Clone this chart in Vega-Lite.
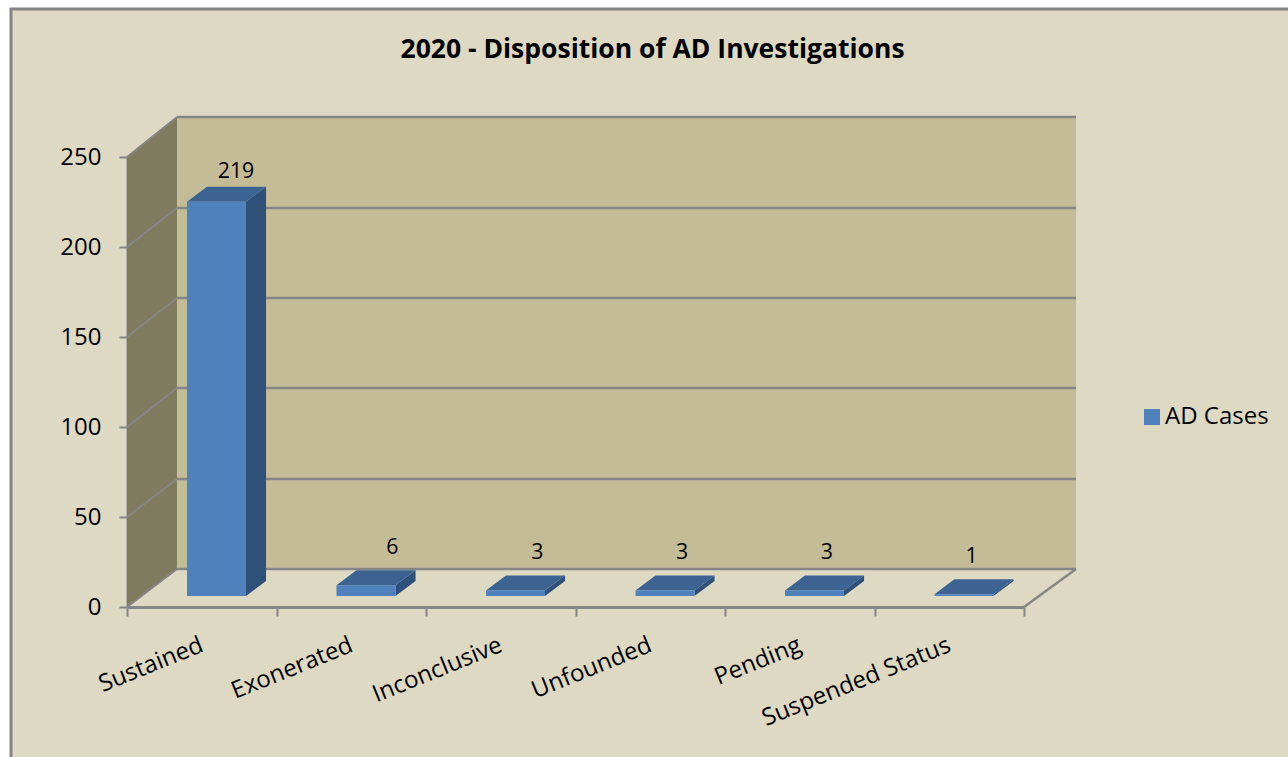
{
"$schema":"https://vega.github.io/schema/vega-lite/v6.json",
"width":1280,"height":751,
"autosize":{"type":"none"},
"padding":{"left":11,"top":9,"right":-3,"bottom":-3},
"background":"#ffffff",
"view":{"fill":"#ddd9c3","stroke":"#868686","strokeWidth":3},
"config":{"font":"Open Sans"},
"title":{"text":"2020 - Disposition of AD Investigations","font":"Open Sans","fontSize":26.5,"fontWeight":"bold","color":"#000000","anchor":"start","offset":-54,"dx":394},
"datasets":{
"cases":[
{"category":"Sustained","value":219,"series":"AD Cases"},
{"category":"Exonerated","value":6,"series":"AD Cases"},
{"category":"Inconclusive","value":3,"series":"AD Cases"},
{"category":"Unfounded","value":3,"series":"AD Cases"},
{"category":"Pending","value":3,"series":"AD Cases"},
{"category":"Suspended Status","value":1,"series":"AD Cases"}],
"grid":[
{"level":0,"back":21.1},{"level":50,"back":71.1},{"level":100,"back":121.7},{"level":150,"back":171.7},{"level":200,"back":221.7},{"level":250,"back":272.2}],
"leftwall":[{"depth":0,"low":0,"high":250},{"depth":0.3344,"low":21.1,"high":272.2}],
"backwall":[{"near":0.3344,"far":6.348,"low":21.1,"high":272.2}],
"floorEdge":[{"x0":6,"x1":6.348,"y0":0,"y1":21.1}]
},
"resolve":{"scale":{"x":"independent"},"axis":{"x":"independent"}},
"layer":[
{"data":{"name":"leftwall"},"mark":{"type":"area","orient":"vertical","fill":"#7f7b5f","clip":false},
"encoding":{
"x":{"field":"depth","type":"quantitative","scale":{"domain":[0,6],"range":[116,1013]},"axis":null},
"y":{"field":"low","type":"quantitative","stack":null,"scale":{"domain":[0,250],"range":[598,148],"nice":false,"zero":false},
"axis":{"orient":"left","offset":-116,"values":[0,50,100,150,200,250],"grid":false,"title":null,"domainColor":"#868686","domainWidth":2,"tickColor":"#868686","tickWidth":2,"tickSize":8,"labelFontSize":24,"labelColor":"#000000","labelFont":"Open Sans","labelPadding":18}},
"y2":{"field":"high"}}},
{"data":{"name":"backwall"},"mark":{"type":"rect","fill":"#c4bc96"},
"encoding":{
"x":{"field":"near","type":"quantitative","scale":{"domain":[0,6],"range":[116,1013]},"axis":null},
"x2":{"field":"far"},
"y":{"field":"low","type":"quantitative","scale":{"domain":[0,250],"range":[598,148],"nice":false,"zero":false}},"y2":{"field":"high"}}},
{"data":{"name":"grid"},"mark":{"type":"rule","stroke":"#868686","strokeWidth":2.5},
"encoding":{
"x":{"datum":0.3344,"type":"quantitative","scale":{"domain":[0,6],"range":[116,1013]},"axis":null},
"x2":{"datum":6.348},
"y":{"field":"back","type":"quantitative","scale":{"domain":[0,250],"range":[598,148],"nice":false,"zero":false}}}},
{"data":{"name":"grid"},"mark":{"type":"rule","stroke":"#868686","strokeWidth":2},
"encoding":{
"x":{"datum":0,"type":"quantitative","scale":{"domain":[0,6],"range":[116,1013]},"axis":null},
"x2":{"datum":0.3344},
"y":{"field":"level","type":"quantitative","scale":{"domain":[0,250],"range":[598,148],"nice":false,"zero":false}},"y2":{"field":"back"}}},
{"data":{"name":"floorEdge"},"mark":{"type":"rule","stroke":"#868686","strokeWidth":2.5},
"encoding":{
"x":{"field":"x0","type":"quantitative","scale":{"domain":[0,6],"range":[116,1013]},"axis":null},
"x2":{"field":"x1"},
"y":{"field":"y0","type":"quantitative","scale":{"domain":[0,250],"range":[598,148],"nice":false,"zero":false}},"y2":{"field":"y1"}}},
{"data":{"name":"cases"},
"transform":[
{"window":[{"op":"row_number","as":"slot"}]},
{"calculate":"[0,1]","as":"corner"},{"flatten":["corner"]},
{"calculate":"datum.slot-1+0.796+datum.corner*0.134","as":"sx"},
{"calculate":"6.11+datum.value+datum.corner*8.33","as":"sy"},
{"calculate":"6.11+datum.corner*8.33","as":"sy2"}],
"mark":{"type":"area","orient":"vertical","fill":"#2f5078"},
"encoding":{
"detail":{"field":"category"},
"x":{"field":"sx","type":"quantitative","scale":{"domain":[0,6],"range":[116,1013]},"axis":null},
"y":{"field":"sy","type":"quantitative","stack":null,"scale":{"domain":[0,250],"range":[598,148],"nice":false,"zero":false}},"y2":{"field":"sy2"}}},
{"data":{"name":"cases"},
"transform":[
{"window":[{"op":"row_number","as":"slot"}]},
{"calculate":"[0,1]","as":"corner"},{"flatten":["corner"]},
{"calculate":"datum.slot-1+0.401+datum.corner*0.134","as":"tx"},
{"calculate":"datum.slot-1+0.796+datum.corner*0.134","as":"tx2"},
{"calculate":"6.11+datum.value+datum.corner*8.33","as":"ty"}],
"mark":{"type":"area","orient":"horizontal","fill":"#3c6391"},
"encoding":{
"detail":{"field":"category"},
"y":{"field":"ty","type":"quantitative","scale":{"domain":[0,250],"range":[598,148],"nice":false,"zero":false}},
"x":{"field":"tx","type":"quantitative","stack":null,"scale":{"domain":[0,6],"range":[116,1013]},"axis":null},
"x2":{"field":"tx2"}}},
{"data":{"name":"cases"},
"transform":[{"calculate":"6.11+datum.value","as":"top"}],
"mark":{"type":"bar","width":59,"xOffset":14.75,"x2Offset":14.75},
"encoding":{
"x":{"field":"category","type":"nominal","sort":null,
"scale":{"range":[116,1013],"padding":0},
"axis":{"orient":"bottom","offset":-153,"title":null,"tickBand":"extent","domainColor":"#868686","domainWidth":3,"tickColor":"#868686","tickWidth":2,"tickSize":9,"labelAngle":-22,"labelAlign":"right","labelBaseline":"middle","labelFontSize":24,"labelColor":"#000000","labelFont":"Open Sans","labelPadding":28,"labelOverlap":false,"labelLimit":400}},
"y":{"field":"top","type":"quantitative","stack":null,"scale":{"domain":[0,250],"range":[598,148],"nice":false,"zero":false}},
"y2":{"datum":6.11},
"color":{"field":"series","type":"nominal","scale":{"range":["#4f81bd"]},
"legend":{"orient":"none","legendX":1129,"legendY":396,"title":null,"symbolType":"square","symbolSize":256,"symbolStrokeColor":"#a9bdd6","symbolStrokeWidth":1,"labelFontSize":24,"labelColor":"#000000","labelFont":"Open Sans","labelOffset":1,"padding":0,"encode":{"symbols":{"update":{"fill":{"value":"#558ed5"}}}}}}}},
{"data":{"name":"cases"},
"transform":[
{"window":[{"op":"row_number","as":"slot"}]},
{"calculate":"0.8095+(datum.slot-1)*0.9682-datum.value*0.000367","as":"lx"},
{"calculate":"26.8+datum.value*0.98","as":"ly"}],
"mark":{"type":"text","font":"Open Sans","fontSize":21.3,"color":"#000000","baseline":"middle","align":"center"},
"encoding":{
"x":{"field":"lx","type":"quantitative","scale":{"domain":[0,6],"range":[116,1013]},"axis":null},
"y":{"field":"ly","type":"quantitative","stack":null,"scale":{"domain":[0,250],"range":[598,148],"nice":false,"zero":false}},
"text":{"field":"value","type":"quantitative"}}}
]
}
